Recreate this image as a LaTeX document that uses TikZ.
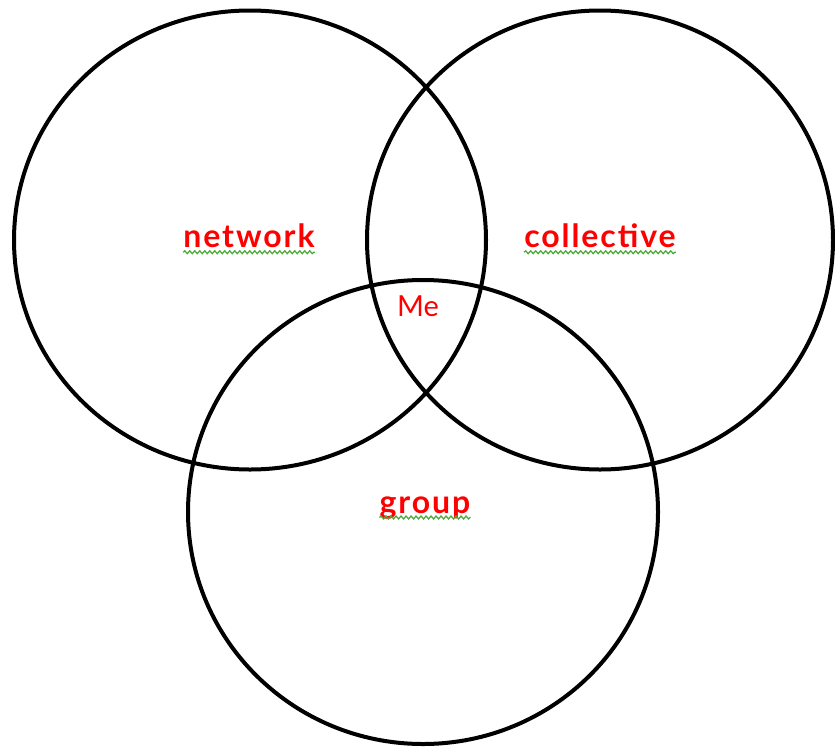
\documentclass[tikz,border=0pt]{standalone}
\usepackage{fontspec}
\setmainfont{Lato}
\newfontfamily\fonteRotulo[LetterSpace=6]{Lato}
\usetikzlibrary{shapes.geometric,decorations.pathmorphing}
\definecolor{rotulo}{RGB}{255,0,0}
\definecolor{ondaVerde}{RGB}{80,170,60}
\tikzset{
  conjunto/.style={ellipse, draw=black, line width=4pt, inner sep=0pt,
                   minimum width=470pt, minimum height=460pt},
  rotulo/.style={text=rotulo, font=\fonteRotulo\fontsize{32}{34}\selectfont\bfseries, inner sep=0pt},
  eu/.style={text=rotulo, font=\fontsize{29}{32}\selectfont, inner sep=0pt},
  sublinhado/.style={ondaVerde, line width=1.3pt,
                     decorate, decoration={snake, amplitude=1.4pt, segment length=5pt}},
}
\begin{document}
\begin{tikzpicture}[x=1pt,y=-1pt]
  \useasboundingbox (0,0) rectangle (835,747);
  % os tres conjuntos
  \node[conjunto, minimum width=472pt, minimum height=459pt] (cNetwork) at (250,240) {};
  \node[conjunto, minimum width=466pt, minimum height=459pt] (cCollective) at (600,240) {};
  \node[conjunto, minimum width=470pt, minimum height=464pt] (cGroup) at (423,512) {};
  % rotulos
  \node[rotulo] (network) at (249,236) {network};
  \node[rotulo] (collective) at (600,236) {collective};
  \node[rotulo] (group) at (425,508) {group};
  \node[eu] (me) at (418,306) {Me};
  % sublinhado do corretor
  \draw[sublinhado] ([yshift=-4pt]network.south west) -- ([yshift=-4pt]network.south east);
  \draw[sublinhado] ([yshift=-4pt]collective.south west) -- ([yshift=-4pt]collective.south east);
  \draw[sublinhado] ([yshift=-4pt]group.base west) -- ([yshift=-4pt]group.base east);
\end{tikzpicture}
\end{document}
